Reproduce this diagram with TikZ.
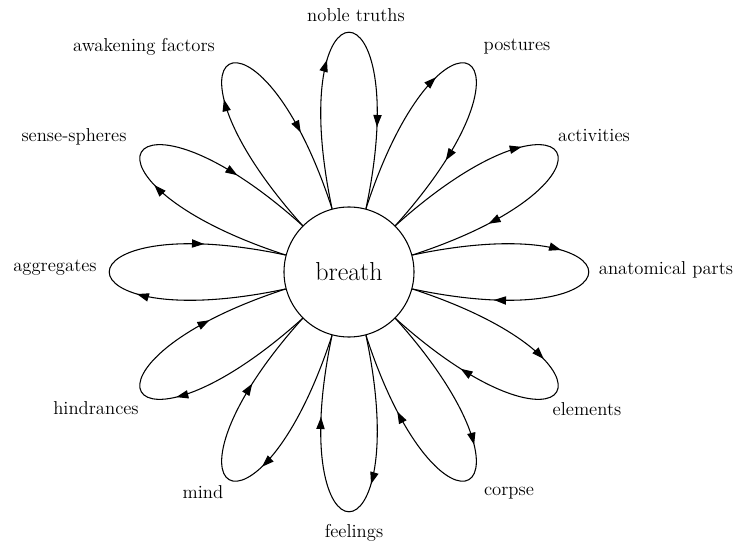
\documentclass[tikz,border=0pt]{standalone}
\usepackage{xcolor}
\usepackage{tikz}
\usetikzlibrary{arrows.meta,decorations.markings}
\definecolor{figline}{RGB}{0,0,0}
\tikzset{
  hub/.style  ={circle, draw=figline, line width=0.8pt, minimum size=97.5pt, inner sep=0pt, font=\fontsize{19.5}{23}\selectfont},
  lab/.style  ={font=\fontsize{14}{16}\selectfont, inner sep=1pt},
  tip/.style  ={Triangle[length=9pt,width=6.2pt]},
  petal/.style={draw=figline, line width=0.8pt, postaction={decorate},
    decoration={markings,
      mark=at position 0.4 with {\arrow{Triangle[length=9pt,width=6.2pt]}},
      mark=at position 0.78 with {\arrow{Triangle[length=9pt,width=6.2pt]}}}},
}
\begin{document}
\begin{tikzpicture}[x=0.75pt,y=0.75pt]
  \useasboundingbox (-349,-273) rectangle (388,272);
  \node[hub] (breath) at (0,0) {breath};
  \draw[petal] (breath.105) .. controls (102.6:306) and (77.4:306) .. (breath.75);
  \draw[petal] (breath.75) .. controls (72.6:306) and (47.4:306) .. (breath.45);
  \draw[petal] (breath.45) .. controls (42.6:306) and (17.4:306) .. (breath.15);
  \draw[petal] (breath.15) .. controls (12.6:306) and (347.4:306) .. (breath.345);
  \draw[petal] (breath.345) .. controls (342.6:306) and (317.4:306) .. (breath.315);
  \draw[petal] (breath.315) .. controls (312.6:306) and (287.4:306) .. (breath.285);
  \draw[petal] (breath.285) .. controls (282.6:306) and (257.4:306) .. (breath.255);
  \draw[petal] (breath.255) .. controls (252.6:306) and (227.4:306) .. (breath.225);
  \draw[petal] (breath.225) .. controls (222.6:306) and (197.4:306) .. (breath.195);
  \draw[petal] (breath.195) .. controls (192.6:306) and (167.4:306) .. (breath.165);
  \draw[petal] (breath.165) .. controls (162.6:306) and (137.4:306) .. (breath.135);
  \draw[petal] (breath.135) .. controls (132.6:306) and (107.4:306) .. (breath.105);
  \node[lab] (truths) at (7,257) {noble truths};
  \node[lab] (postures) at (168,225) {postures};
  \node[lab] (activities) at (245,136) {activities};
  \node[lab] (anatomy) at (317,2) {anatomical parts};
  \node[lab] (elements) at (238,-137) {elements};
  \node[lab] (corpse) at (160,-221) {corpse};
  \node[lab] (feelings) at (5,-261) {feelings};
  \node[lab] (mind) at (-146,-220) {mind};
  \node[lab] (hindrances) at (-253,-136) {hindrances};
  \node[lab] (aggregates) at (-294,4) {aggregates};
  \node[lab] (spheres) at (-275,135) {sense-spheres};
  \node[lab] (factors) at (-205,225) {awakening factors};
\end{tikzpicture}
\end{document}
